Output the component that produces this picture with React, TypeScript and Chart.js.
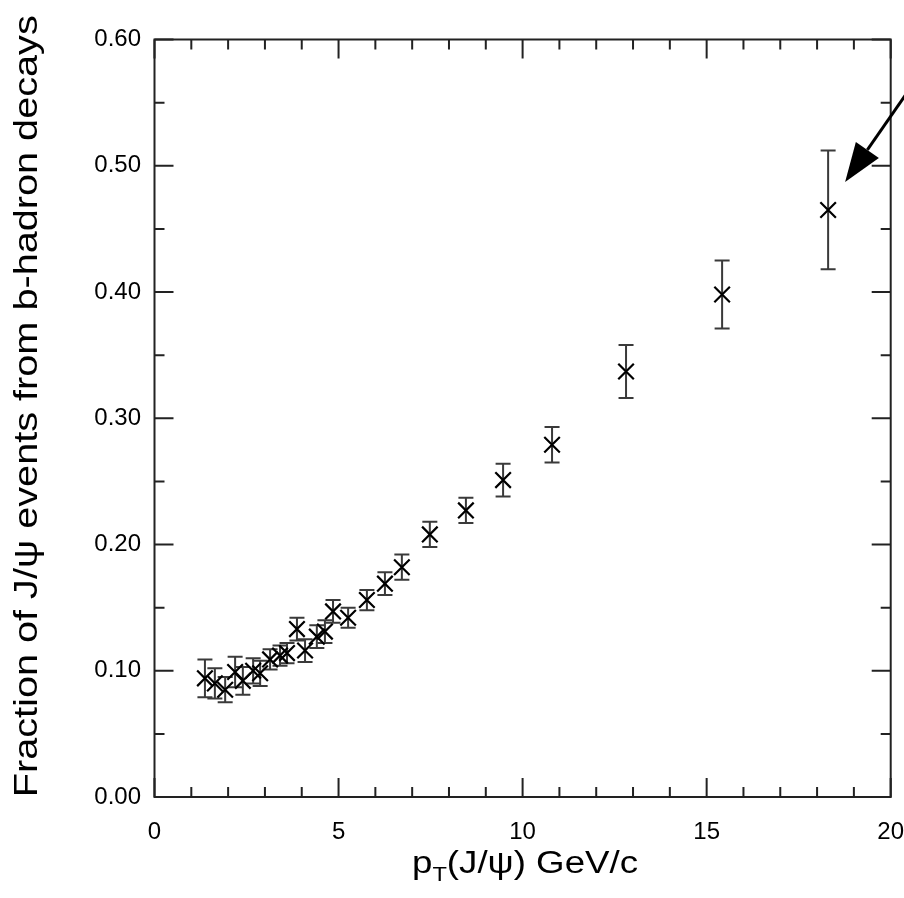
import React, { useEffect, useRef } from "react";
import { Chart, registerables } from "chart.js";

Chart.register(...registerables);

// ---- data ----
const pT = [
  1.37, 1.64, 1.92, 2.19, 2.40, 2.68, 2.87, 3.14, 3.41, 3.60, 3.87, 4.09, 4.41,
  4.63, 4.85, 5.26, 5.77, 6.26, 6.72, 7.48, 8.46, 9.47, 10.80, 12.81, 15.42, 18.30,
];
const fraction = [
  0.094, 0.090, 0.085, 0.099, 0.092, 0.100, 0.098, 0.109, 0.112, 0.114, 0.133,
  0.116, 0.127, 0.131, 0.147, 0.142, 0.156, 0.169, 0.182, 0.208, 0.227, 0.251,
  0.279, 0.337, 0.398, 0.465,
];
const fractionErr = [
  0.015, 0.012, 0.010, 0.012, 0.011, 0.010, 0.010, 0.008, 0.008, 0.008, 0.009,
  0.009, 0.009, 0.009, 0.009, 0.008, 0.008, 0.009, 0.010, 0.010, 0.010, 0.013,
  0.014, 0.021, 0.027, 0.047,
];
const xTicks = [0, 5, 10, 15, 20];
const yTicks = [0, 0.1, 0.2, 0.3, 0.4, 0.5, 0.6];
const xMinorStep = 1;
const yMinorStep = 0.05;
const yTitle = "Fraction of J/\u03C8 events from b-hadron decays";
const xTitleMain = "p";
const xTitleSub = "T";
const xTitleRest = "(J/\u03C8) GeV/c";

const FONT = "'Liberation Sans', Arial, Helvetica, sans-serif";

const errorBars = {
  id: "errorBars",
  beforeDatasetsDraw(chart: any) {
    const ctx = chart.ctx;
    const xs = chart.scales.x;
    const ys = chart.scales.y;
    ctx.save();
    ctx.strokeStyle = "#3a3a3a";
    ctx.lineWidth = 2;
    const cap = 7.5;
    pT.forEach((x, i) => {
      const px = xs.getPixelForValue(x);
      const top = ys.getPixelForValue(fraction[i] + fractionErr[i]);
      const bot = ys.getPixelForValue(fraction[i] - fractionErr[i]);
      ctx.beginPath();
      ctx.moveTo(px, top);
      ctx.lineTo(px, bot);
      ctx.moveTo(px - cap, top);
      ctx.lineTo(px + cap, top);
      ctx.moveTo(px - cap, bot);
      ctx.lineTo(px + cap, bot);
      ctx.stroke();
    });
    ctx.restore();
  },
};

const frame = {
  id: "frame",
  afterDraw(chart: any) {
    const ctx = chart.ctx;
    const a = chart.chartArea;
    const xs = chart.scales.x;
    const ys = chart.scales.y;
    ctx.save();
    ctx.strokeStyle = "#222";
    ctx.lineWidth = 2;
    ctx.strokeRect(a.left, a.top, a.right - a.left, a.bottom - a.top);

    ctx.beginPath();
    const nx = Math.round((xs.max - xs.min) / xMinorStep);
    for (let k = 0; k <= nx; k++) {
      const v = xs.min + k * xMinorStep;
      const px = xs.getPixelForValue(v);
      const major = xTicks.some((t) => Math.abs(t - v) < 1e-9);
      const len = major ? 19 : 10;
      ctx.moveTo(px, a.bottom);
      ctx.lineTo(px, a.bottom - len);
      ctx.moveTo(px, a.top);
      ctx.lineTo(px, a.top + len);
    }
    const ny = Math.round((ys.max - ys.min) / yMinorStep);
    for (let k = 0; k <= ny; k++) {
      const v = ys.min + k * yMinorStep;
      const py = ys.getPixelForValue(v);
      const major = yTicks.some((t) => Math.abs(t - v) < 1e-9);
      const len = major ? 19 : 10;
      ctx.moveTo(a.left, py);
      ctx.lineTo(a.left + len, py);
      ctx.moveTo(a.right, py);
      ctx.lineTo(a.right - len, py);
    }
    ctx.stroke();
    ctx.restore();
  },
};

const titles = {
  id: "titles",
  afterDraw(chart: any) {
    const ctx = chart.ctx;
    const a = chart.chartArea;
    ctx.save();
    ctx.fillStyle = "#000";

    // y title, rotated
    ctx.save();
    ctx.font = `33px ${FONT}`;
    const w = ctx.measureText(yTitle).width;
    const target = 782;
    ctx.translate(37, (a.top + a.bottom) / 2 - 12);
    ctx.rotate(-Math.PI / 2);
    ctx.scale(target / w, 1);
    ctx.textAlign = "center";
    ctx.textBaseline = "alphabetic";
    ctx.fillText(yTitle, 0, 0);
    ctx.restore();

    // x title with subscript
    ctx.save();
    const mainFont = `31px ${FONT}`;
    const subFont = `20px ${FONT}`;
    ctx.font = mainFont;
    const w1 = ctx.measureText(xTitleMain).width;
    const w3 = ctx.measureText(xTitleRest).width;
    ctx.font = subFont;
    const w2 = ctx.measureText(xTitleSub).width;
    const total = w1 + w2 + w3;
    const targetW = 226;
    const sx = targetW / total;
    const cx = 525;
    const baseY = 873;
    ctx.translate(cx - targetW / 2, baseY);
    ctx.scale(sx, 1);
    ctx.textAlign = "left";
    ctx.textBaseline = "alphabetic";
    ctx.font = mainFont;
    ctx.fillText(xTitleMain, 0, 0);
    ctx.font = subFont;
    ctx.fillText(xTitleSub, w1, 8);
    ctx.font = mainFont;
    ctx.fillText(xTitleRest, w1 + w2, 0);
    ctx.restore();

    ctx.restore();
  },
};

const arrow = {
  id: "arrow",
  afterDraw(chart: any) {
    const ctx = chart.ctx;
    const xs = chart.scales.x;
    const ys = chart.scales.y;
    const last = pT.length - 1;
    const px = xs.getPixelForValue(pT[last]);
    const py = ys.getPixelForValue(fraction[last]);
    const tipX = px + 17;
    const tipY = py - 28;
    let dx = 59;
    let dy = -85;
    const L = Math.hypot(dx, dy);
    dx /= L;
    dy /= L;
    const headLen = 39;
    const halfW = 14;
    const baseX = tipX + dx * headLen;
    const baseY = tipY + dy * headLen;
    ctx.save();
    ctx.strokeStyle = "#000";
    ctx.fillStyle = "#000";
    ctx.lineWidth = 3;
    ctx.beginPath();
    ctx.moveTo(baseX, baseY);
    ctx.lineTo(tipX + dx * 160, tipY + dy * 160);
    ctx.stroke();
    ctx.beginPath();
    ctx.moveTo(tipX, tipY);
    ctx.lineTo(baseX - dy * halfW, baseY + dx * halfW);
    ctx.lineTo(baseX + dy * halfW, baseY - dx * halfW);
    ctx.closePath();
    ctx.fill();
    ctx.restore();
  },
};

export default function App() {
  const ref = useRef<HTMLCanvasElement | null>(null);

  useEffect(() => {
    if (!ref.current) return;
    const chart = new Chart(ref.current, {
      type: "scatter",
      data: {
        datasets: [
          {
            data: pT.map((x, i) => ({ x, y: fraction[i] })),
            pointStyle: "crossRot",
            pointRadius: 11,
            pointHoverRadius: 11,
            pointBorderWidth: 2.2,
            borderColor: "#000",
            backgroundColor: "#000",
            showLine: false,
          },
        ],
      },
      options: {
        responsive: false,
        devicePixelRatio: 1,
        animation: false,
        events: [],
        layout: { padding: { left: 0, top: 39.5, right: 13.3, bottom: 0 } },
        plugins: {
          legend: { display: false },
          tooltip: { enabled: false },
          title: { display: false },
        },
        scales: {
          x: {
            type: "linear",
            min: 0,
            max: 20,
            grid: { display: false, drawTicks: false },
            border: { display: false },
            afterBuildTicks: (s: any) => {
              s.ticks = xTicks.map((v) => ({ value: v }));
            },
            afterFit: (s: any) => {
              s.height = 101;
              s.paddingLeft = 0;
              s.paddingRight = 0;
            },
            ticks: {
              autoSkip: false,
              maxRotation: 0,
              padding: 21,
              color: "#000",
              font: { family: FONT, size: 24 },
              callback: (v: any) => String(v),
            },
          },
          y: {
            type: "linear",
            min: 0,
            max: 0.6,
            grid: { display: false, drawTicks: false },
            border: { display: false },
            afterBuildTicks: (s: any) => {
              s.ticks = yTicks.map((v) => ({ value: v }));
            },
            afterFit: (s: any) => {
              s.width = 154.5;
              s.paddingTop = 0;
              s.paddingBottom = 0;
            },
            ticks: {
              autoSkip: false,
              padding: 13.5,
              color: "#000",
              font: { family: FONT, size: 24 },
              callback: (v: any) => Number(v).toFixed(2),
            },
          },
        },
      },
      plugins: [errorBars, frame, titles, arrow],
    });
    return () => chart.destroy();
  }, []);

  return (
    <div style={{ position: "absolute", left: 0, top: 0, width: 904, height: 898, background: "#fff" }}>
      <canvas ref={ref} width={904} height={898} style={{ display: "block" }} />
    </div>
  );
}
